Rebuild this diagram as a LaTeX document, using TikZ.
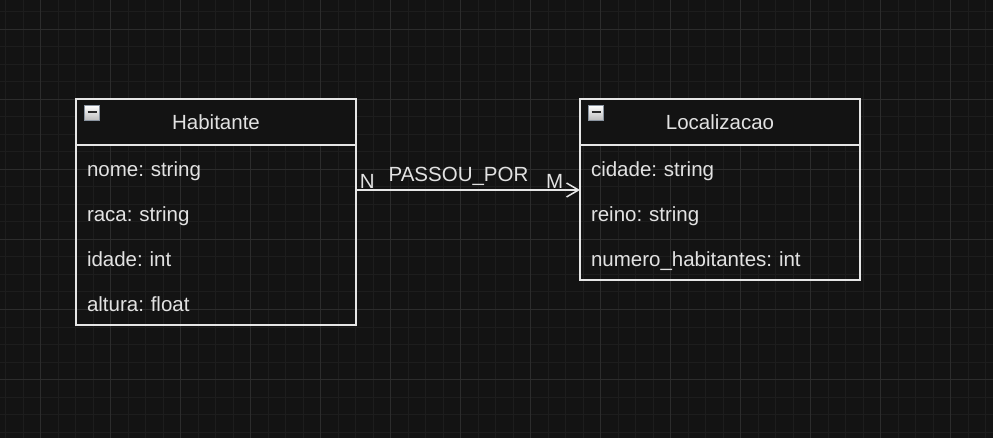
\documentclass[tikz,border=0pt]{standalone}
\usepackage{fontspec}
\setmainfont{Liberation Sans}
\usetikzlibrary{positioning,arrows.meta}

\definecolor{canvas}{HTML}{131313}
\definecolor{minorgrid}{HTML}{1D1D1D}
\definecolor{majorgrid}{HTML}{2C2C2C}
\definecolor{edgeline}{HTML}{E6E6E6}
\definecolor{ink}{HTML}{E2E2E2}
\definecolor{iconrim}{HTML}{8A94A0}
\definecolor{iconbar}{HTML}{2A2A2A}
\frenchspacing

\begin{document}
\begin{tikzpicture}[x=1pt, y=-1pt,
  every node/.style={font=\fontsize{20.5}{24}\selectfont, text=ink},
  header/.style={draw=edgeline, line width=1.5pt, fill=canvas, minimum width=280pt, minimum height=46pt, inner sep=0pt, outer sep=0pt},
  attr/.style={minimum height=45pt, text width=258pt, text height=19.4pt, text depth=1pt, inner xsep=11pt, inner ysep=0pt, outer sep=0pt, align=left},
  toggle/.style={draw=iconrim, line width=1pt, top color=white, bottom color=gray!55, minimum size=15pt, inner sep=0pt, anchor=north west},
  edge/.style={draw=edgeline, line width=1.5pt, -{Straight Barb[length=12pt, width=14pt]}}]
% background and grid
\fill[canvas] (0,0) rectangle (993,438);
\useasboundingbox (0,0) rectangle (993,438);
\foreach \x in {5.5,23,...,993} \draw[minorgrid, line width=1pt] (\x,0) -- (\x,438);
\foreach \y in {12,29.5,...,438} \draw[minorgrid, line width=1pt] (0,\y) -- (993,\y);
\foreach \x in {40.5,110.5,...,993} \draw[majorgrid, line width=1pt] (\x,0) -- (\x,438);
\foreach \y in {29.5,99.5,...,438} \draw[majorgrid, line width=1pt] (0,\y) -- (993,\y);

% Habitante
\node[header] (hab) at (216,122) {Habitante};
\node[attr] (hab1) [below=0pt of hab] {nome: string};
\node[attr] (hab2) [below=0pt of hab1] {raca: string};
\node[attr] (hab3) [below=0pt of hab2] {idade: int};
\node[attr] (hab4) [below=0pt of hab3] {altura: float};
\draw[edgeline, line width=1.5pt] (hab.south west) rectangle (hab4.south east);
\node[toggle] (habtoggle) at ([xshift=8pt, yshift=-6pt]hab.north west) {\color{iconbar}\rule[2pt]{9pt}{2pt}};

% Localizacao
\node[header] (loc) at (720,122) {Localizacao};
\node[attr] (loc1) [below=0pt of loc] {cidade: string};
\node[attr] (loc2) [below=0pt of loc1] {reino: string};
\node[attr] (loc3) [below=0pt of loc2] {numero\_habitantes: int};
\draw[edgeline, line width=1.5pt] (loc.south west) rectangle (loc3.south east);
\node[toggle] (loctoggle) at ([xshift=8pt, yshift=-6pt]loc.north west) {\color{iconbar}\rule[2pt]{9pt}{2pt}};

% relationship
\draw[edge] (hab1.south east) -- (loc1.south west)
  node[pos=0, anchor=base west, inner sep=0pt, xshift=3pt, yshift=1pt] {N}
  node[midway, anchor=base, inner sep=0pt, xshift=-9.5pt, yshift=8.5pt] {PASSOU\_POR}
  node[pos=1, anchor=base east, inner sep=0pt, xshift=-16pt, yshift=1pt] {M};
\end{tikzpicture}
\end{document}
